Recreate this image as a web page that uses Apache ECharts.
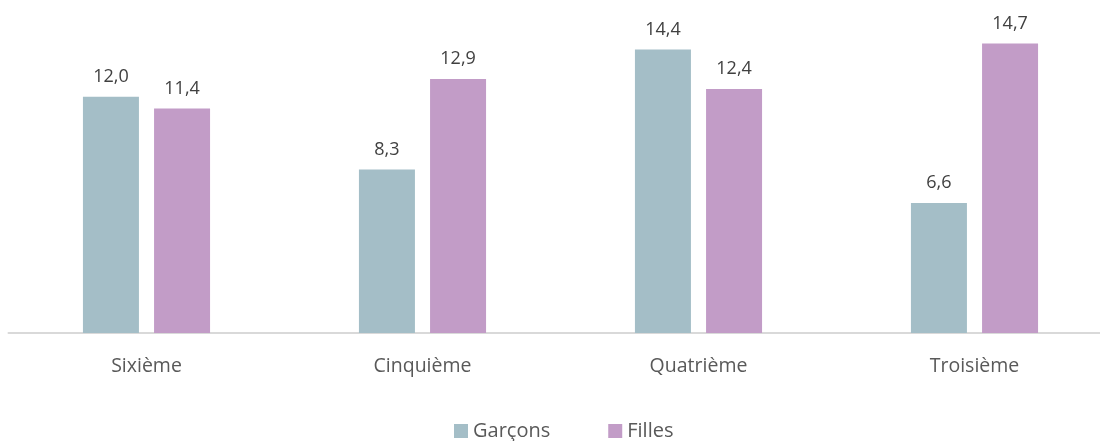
<!DOCTYPE html>
<html>
<head>
<meta charset="utf-8">
<script src="https://cdn.jsdelivr.net/npm/echarts@6/dist/echarts.min.js"></script>
<style>
  html, body { margin: 0; padding: 0; background: #fff; }
  #chart { width: 1100px; height: 441px; }
</style>
</head>
<body>
<div id="chart"></div>
<script>
var categories = ['Sixième', 'Cinquième', 'Quatrième', 'Troisième'];
var garcons = [12.0, 8.3, 14.4, 6.6];
var filles = [11.4, 12.9, 12.4, 14.7];

var font = '"Open Sans", "Noto Sans", sans-serif';
var fmt = function (p) { return p.value.toFixed(1).replace('.', ','); };

var chart = echarts.init(document.getElementById('chart'));
chart.setOption({
  animation: false,
  textStyle: { fontFamily: font },
  legend: {
    bottom: -5,
    left: 449,
    itemWidth: 14,
    itemHeight: 14,
    itemGap: 58,
    icon: 'rect',
    textStyle: { fontSize: 20, color: '#595959', fontFamily: font },
    data: ['Garçons', 'Filles']
  },
  grid: { left: 8.5, top: 18, width: 1104, height: 315, outerBoundsMode: 'none' },
  xAxis: {
    type: 'category',
    data: categories,
    axisLine: { lineStyle: { color: '#D9D9D9', width: 2 } },
    axisTick: { show: false },
    axisLabel: { fontSize: 19.5, color: '#595959', margin: 23, fontFamily: font }
  },
  yAxis: {
    type: 'value',
    min: 0,
    max: 16,
    show: false,
    splitLine: { show: false }
  },
  series: [
    {
      name: 'Garçons',
      type: 'bar',
      data: garcons,
      barWidth: 56,
      barGap: '27%',
      itemStyle: { color: '#A4BEC7' },
      label: { show: true, position: 'top', distance: 11, fontSize: 18, color: '#404040', formatter: fmt, fontFamily: font }
    },
    {
      name: 'Filles',
      type: 'bar',
      data: filles,
      barWidth: 56,
      itemStyle: { color: '#C29CC7' },
      label: { show: true, position: 'top', distance: 11, fontSize: 18, color: '#404040', formatter: fmt, fontFamily: font }
    }
  ]
});
</script>
</body>
</html>
